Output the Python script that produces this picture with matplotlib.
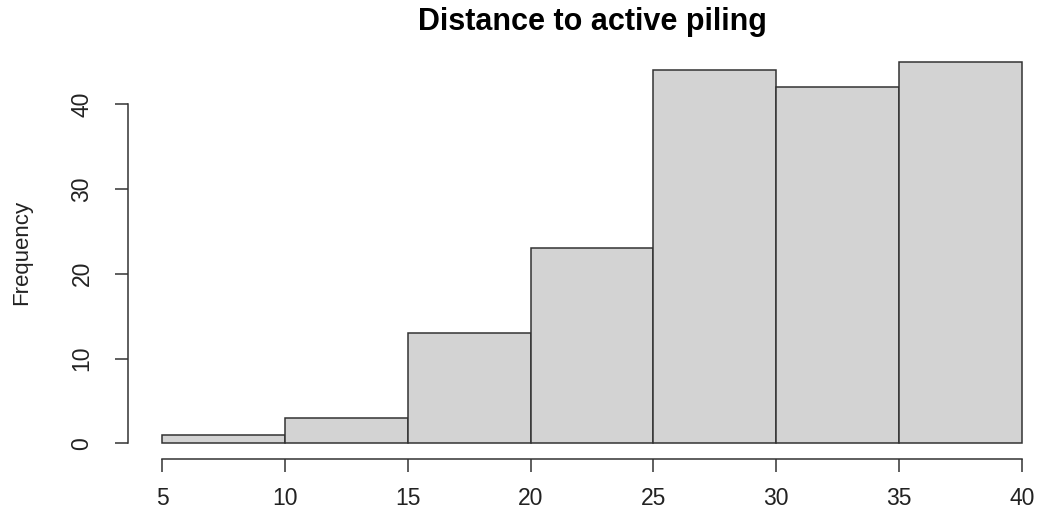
import matplotlib
matplotlib.use("Agg")
import matplotlib.pyplot as plt

plt.rcParams['font.family'] = ['Liberation Sans', 'DejaVu Sans']

bin_edges = [5, 10, 15, 20, 25, 30, 35, 40]
counts = [1, 3, 13, 23, 44, 42, 45]
x_ticks = [5, 10, 15, 20, 25, 30, 35, 40]
y_ticks = [0, 10, 20, 30, 40]
title = "Distance to active piling"
ylabel = "Frequency"

W, H = 1038, 512
fig = plt.figure(figsize=(W / 100, H / 100), dpi=100)
left_px, right_px = 127.6, 1056.4
top_px, bottom_px = 46.4, 458.7
ax = fig.add_axes([left_px / W, 1 - bottom_px / H,
                   (right_px - left_px) / W, (bottom_px - top_px) / H])

lefts = bin_edges[:-1]
widths = [b - a for a, b in zip(bin_edges[:-1], bin_edges[1:])]
ax.bar(lefts, counts, width=widths, align='edge', color='#d3d3d3',
       edgecolor='#333333', linewidth=1.1)

ax.set_xlim(3.6, 41.4)
ax.set_ylim(-1.8, 46.8)
for s in ['top', 'right']:
    ax.spines[s].set_visible(False)
ax.spines['left'].set_bounds(0, 40)
ax.spines['bottom'].set_bounds(5, 40)
for s in ['left', 'bottom']:
    ax.spines[s].set_color('#333333')
    ax.spines[s].set_linewidth(1.1)

ax.set_xticks(x_ticks)
ax.set_yticks(y_ticks)
ax.set_xticklabels([str(v) for v in x_ticks])
ax.set_yticklabels([str(v) for v in y_ticks], rotation=90, va='center')
ax.tick_params(axis='both', length=9.5, width=1.1, color='#333333',
               labelsize=16.5, labelcolor='#222222')
ax.tick_params(axis='x', pad=11)
ax.tick_params(axis='y', pad=15)

fig.text(592 / W, 1 - 30 / H, title, ha='center', va='baseline',
         fontsize=22, fontweight='bold', color='black')
fig.text(22 / W, 1 - 252 / H, ylabel, ha='center', va='center',
         rotation=90, fontsize=16, color='#222222')

fig.savefig("out.png", dpi=100)
